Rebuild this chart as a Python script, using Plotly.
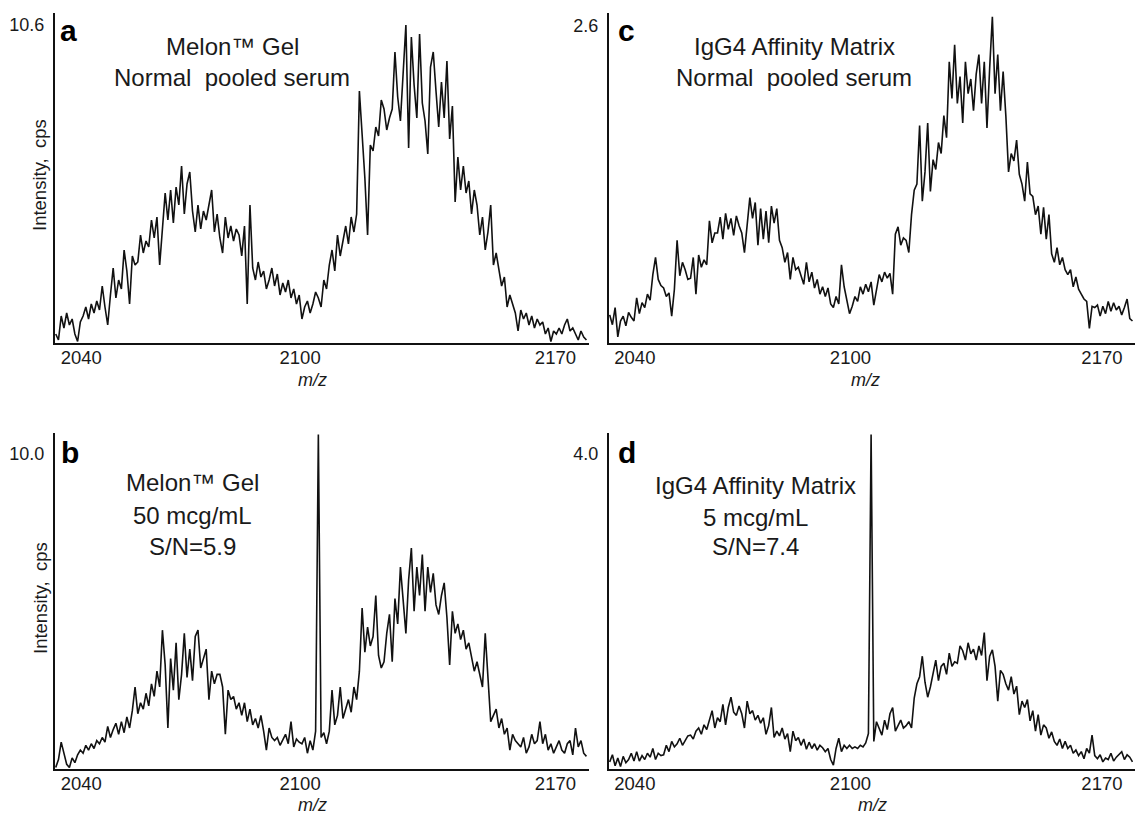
import numpy as np
import plotly.graph_objects as go

# ---------------- data ----------------
MZ_START = 2033.0      # m/z of first sample
MZ_STEP = 0.75         # m/z spacing of samples
X_RANGE = [2032.8, 2179.2]
X_TICKS = [2040, 2100, 2170]

# panel a: Melon Gel, normal pooled serum (cps)
INT_A = [
    0.3, 0.1, 0.9, 0.5, 1.0, 0.6, 0.8, 0.3, 0.05, 0.7,
    0.9, 1.2, 0.8, 1.3, 1.0, 1.4, 1.1, 1.9, 1.2, 0.6,
    1.6, 2.5, 1.5, 2.1, 1.8, 3.1, 2.4, 1.3, 2.9, 2.6,
    2.7, 3.6, 3.0, 3.4, 3.2, 4.1, 3.5, 4.2, 2.6, 3.9,
    5.0, 4.1, 5.1, 4.0, 5.2, 4.6, 5.9, 4.3, 5.3, 5.7,
    4.4, 3.7, 4.6, 3.8, 4.4, 4.1, 4.6, 5.1, 3.7, 4.3,
    3.5, 3.0, 4.2, 3.5, 3.9, 3.4, 3.8, 3.6, 2.9, 3.9,
    1.3, 4.6, 2.5, 2.1, 2.7, 2.2, 2.4, 1.8, 2.1, 2.5,
    1.9, 2.3, 1.6, 2.0, 1.7, 2.1, 1.5, 1.8, 1.3, 1.6,
    0.8, 1.2, 1.4, 1.0, 1.3, 1.7, 1.5, 1.2, 2.1, 1.8,
    2.6, 3.1, 2.4, 3.6, 2.9, 3.4, 3.9, 3.3, 4.2, 3.7,
    4.3, 8.4, 7.0, 5.5, 3.6, 6.6, 6.4, 7.2, 6.9, 8.1,
    7.8, 7.1, 7.5, 7.8, 9.7, 8.2, 7.4, 9.1, 10.6, 6.5,
    10.2, 8.6, 7.5, 10.3, 8.0, 7.4, 6.3, 9.2, 9.7, 8.4,
    7.2, 8.7, 7.5, 9.4, 6.8, 7.9, 4.7, 6.2, 5.1, 5.9,
    5.0, 5.4, 4.3, 5.1, 4.6, 3.6, 4.2, 3.1, 3.7, 4.6,
    2.6, 3.0, 2.5, 1.9, 2.2, 1.2, 1.6, 1.3, 1.0, 0.4,
    1.1, 0.8, 1.0, 0.6, 0.9, 0.5, 0.8, 0.6, 0.7, 0.3,
    0.5, 0.05, 0.4, 0.3, 0.5, 0.3, 0.6, 0.8, 0.4, 0.5,
    0.3, 0.1, 0.4, 0.2, 0.1,
]

# panel c: IgG4 affinity matrix, normal pooled serum (cps)
INT_C = [
    0.23, 0.15, 0.29, 0.05, 0.18, 0.22, 0.14, 0.25, 0.21, 0.18,
    0.37, 0.24, 0.33, 0.29, 0.40, 0.35, 0.56, 0.70, 0.52, 0.47,
    0.45, 0.38, 0.41, 0.22, 0.44, 0.84, 0.55, 0.66, 0.60, 0.52,
    0.53, 0.70, 0.40, 0.72, 0.62, 0.68, 0.64, 1.00, 0.82, 0.90,
    0.90, 1.03, 0.85, 1.06, 0.93, 1.02, 0.88, 1.04, 0.96, 0.90,
    0.74, 1.00, 1.19, 1.02, 1.15, 0.80, 1.10, 0.85, 1.08, 0.82,
    1.12, 0.98, 1.10, 0.84, 0.78, 0.66, 0.74, 0.52, 0.70, 0.60,
    0.62, 0.55, 0.48, 0.66, 0.50, 0.58, 0.45, 0.52, 0.40, 0.46,
    0.38, 0.45, 0.32, 0.29, 0.38, 0.32, 0.64, 0.46, 0.36, 0.24,
    0.30, 0.38, 0.34, 0.46, 0.40, 0.48, 0.42, 0.50, 0.31, 0.45,
    0.56, 0.50, 0.58, 0.53, 0.57, 0.40, 0.89, 0.95, 0.80, 0.86,
    0.84, 0.74, 1.05, 1.25, 1.30, 1.78, 1.16, 1.40, 1.80, 1.24,
    1.50, 1.42, 1.64, 1.55, 1.86, 1.68, 2.30, 2.00, 2.44, 1.96,
    2.18, 1.80, 2.30, 2.04, 2.16, 1.90, 2.20, 2.36, 1.96, 2.30,
    1.76, 2.25, 2.67, 2.04, 2.36, 1.90, 2.22, 1.86, 1.40, 1.55,
    1.49, 1.66, 1.38, 1.30, 1.16, 1.48, 1.22, 1.20, 1.05, 1.12,
    0.89, 1.11, 0.85, 1.05, 0.73, 0.66, 0.78, 0.64, 0.70, 0.60,
    0.56, 0.60, 0.46, 0.54, 0.44, 0.40, 0.36, 0.34, 0.12, 0.30,
    0.29, 0.31, 0.22, 0.30, 0.24, 0.34, 0.26, 0.33, 0.27, 0.30,
    0.23, 0.29, 0.36, 0.20, 0.18,
]

# panel b: Melon Gel, 50 mcg/mL (cps)
INT_B = [
    0.05, 0.3, 0.85, 0.45, 0.15, 0.05, 0.35, 0.2, 0.45, 0.6,
    0.5, 0.75, 0.6, 0.8, 0.65, 0.9, 0.8, 1.0, 0.85, 1.35,
    1.0, 1.25, 1.45, 1.1, 1.5, 1.15, 1.65, 1.3, 1.85, 2.6,
    1.75, 2.1, 1.9, 2.4, 2.0, 2.7, 2.3, 3.1, 2.6, 4.4,
    3.3, 1.3, 3.5, 2.5, 4.0, 2.2, 3.0, 4.3, 2.9, 3.8,
    2.8, 4.2, 4.4, 3.2, 3.5, 3.8, 2.2, 3.1, 2.7, 3.0,
    3.0, 2.6, 1.1, 2.5, 2.2, 2.3, 1.9, 2.1, 1.7, 2.1,
    1.5, 1.9, 1.4, 1.6, 1.3, 1.7, 1.2, 0.6, 1.3, 1.0,
    0.9, 1.0, 0.75, 0.95, 1.1, 0.8, 1.5, 0.7, 0.95, 0.85,
    0.8, 1.0, 0.5, 0.9, 0.6, 1.2, 10.6, 1.0, 1.15, 0.8,
    1.2, 2.5, 1.4, 1.7, 2.6, 1.6, 1.9, 2.2, 1.8, 2.6,
    2.2, 3.1, 5.1, 3.7, 4.5, 3.9, 4.2, 5.5, 3.6, 3.2,
    3.4, 4.3, 4.9, 3.4, 5.4, 4.6, 6.4, 5.2, 4.3, 6.0,
    7.0, 5.0, 6.4, 5.5, 6.8, 5.0, 6.4, 5.6, 6.2, 5.2,
    4.9, 5.5, 5.9, 4.8, 3.3, 5.0, 4.3, 4.6, 4.1, 4.4,
    3.8, 4.0, 3.5, 3.1, 3.4, 3.0, 2.6, 4.3, 2.8, 1.5,
    1.7, 1.9, 1.3, 1.6, 1.1, 1.3, 0.6, 1.1, 0.9, 0.8,
    0.7, 1.0, 0.5, 0.7, 1.1, 0.8, 0.9, 1.5, 0.8, 1.1,
    0.6, 0.8, 0.5, 0.7, 0.9, 0.6, 0.5, 0.8, 0.9, 0.45,
    1.3, 0.7, 0.9, 0.5, 0.4,
]

# panel d: IgG4 affinity matrix, 5 mcg/mL (cps)
INT_D = [
    0.09, 0.18, 0.04, 0.14, 0.03, 0.16, 0.08, 0.12, 0.2, 0.1,
    0.22, 0.1, 0.17, 0.12, 0.2, 0.15, 0.26, 0.12, 0.2, 0.17,
    0.18, 0.3, 0.22, 0.35, 0.28, 0.32, 0.39, 0.3, 0.36, 0.42,
    0.43, 0.38, 0.48, 0.52, 0.44, 0.56, 0.5, 0.62, 0.74, 0.52,
    0.65, 0.6, 0.82, 0.56, 0.78, 0.91, 0.72, 0.68, 0.8, 0.7,
    0.52, 0.86, 0.7, 0.74, 0.62, 0.68, 0.58, 0.65, 0.44, 0.55,
    0.78, 0.4, 0.48, 0.42, 0.52, 0.38, 0.45, 0.22, 0.48, 0.36,
    0.4, 0.3, 0.38, 0.25, 0.34, 0.26, 0.32, 0.24, 0.3, 0.27,
    0.22, 0.26, 0.12, 0.05, 0.26, 0.39, 0.22, 0.3, 0.26, 0.3,
    0.26, 0.28, 0.26, 0.3, 0.28, 0.33, 0.45, 4.24, 0.35, 0.6,
    0.52, 0.43, 0.62, 0.5, 0.7, 0.78, 0.48, 0.56, 0.62, 0.52,
    0.55, 0.6, 0.52, 0.9, 1.08, 1.17, 1.43, 1.1, 0.91, 1.04,
    1.21, 1.38, 1.12, 1.3, 1.34, 1.2, 1.47, 1.3, 1.36, 1.34,
    1.56, 1.5, 1.38, 1.6, 1.46, 1.52, 1.38, 1.56, 1.44, 1.73,
    1.12, 1.43, 1.51, 1.3, 0.86, 1.25, 1.2, 1.08, 1.0, 1.17,
    0.95, 1.05, 0.69, 0.86, 0.78, 0.88, 0.61, 0.74, 0.48, 0.69,
    0.43, 0.56, 0.52, 0.39, 0.47, 0.35, 0.3, 0.38, 0.26, 0.35,
    0.26, 0.3, 0.2, 0.24, 0.17, 0.22, 0.13, 0.26, 0.2, 0.43,
    0.17, 0.13, 0.18, 0.09, 0.14, 0.12, 0.2, 0.1, 0.15, 0.18,
    0.22, 0.12, 0.18, 0.15, 0.09,
]

# axis maxima labels and axis tops (cps)
Y_LABELS = {"a": 10.6, "c": 2.6, "b": 10.0, "d": 4.0}
Y_TOPS = {"a": 11.0, "c": 2.70, "b": 10.65, "d": 4.26}

PANEL_TEXT = {
    "a": ["Melon\u2122 Gel", "Normal\u00a0 pooled serum"],
    "c": ["IgG4 Affinity Matrix", "Normal\u00a0 pooled serum"],
    "b": ["Melon\u2122 Gel", "50 mcg/mL", "S/N=5.9"],
    "d": ["IgG4 Affinity Matrix", "5 mcg/mL", "S/N=7.4"],
}

# ---------------- layout helpers (pixel geometry) ----------------
W, H = 1135, 817
FONT = "Liberation Sans, Arial, Helvetica, sans-serif"
INK = "#1a1a1a"


def fx(p):
    return p / W


def fy(p):
    return 1 - p / H


PANELS = [
    # key, intensities, axis suffix, x px span, y px span (top, bottom),
    # text centre x, text line ys, letter x, letter y, has y title, m/z title x, m/z title y
    ("a", INT_A, "", (55, 589), (13, 343), 232, [47, 77], 68, 30, True, 312, 380),
    ("c", INT_C, "2", (609, 1135), (13, 343), 794, [47, 77], 626, 30, False, 865, 380),
    ("b", INT_B, "3", (55, 589), (433, 769), 192, [483, 515, 546], 70, 452, True, 312, 805),
    ("d", INT_D, "4", (609, 1135), (433, 769), 755, [485, 517, 546], 627, 452, False, 872, 805),
]

fig = go.Figure()
annotations = []
layout = {}

for key, ints, sfx, (x0, x1), (ytop, ybot), tx, tys, lx, ly, has_ytitle, mx, my in PANELS:
    mz = MZ_START + MZ_STEP * np.arange(len(ints))
    fig.add_trace(go.Scatter(
        x=mz, y=ints, mode="lines",
        line=dict(color="#111111", width=1.6),
        xaxis="x" + sfx, yaxis="y" + sfx, showlegend=False,
        hoverinfo="skip",
    ))
    layout["xaxis" + sfx] = dict(
        domain=[fx(x0), fx(x1)], range=X_RANGE, anchor="y" + sfx,
        showline=True, linecolor="#111111", linewidth=2,
        ticks="", tickvals=X_TICKS, ticktext=[str(t) for t in X_TICKS],
        tickfont=dict(family=FONT, size=18.5, color=INK),
        ticklabelstandoff=-3,
        showgrid=False, zeroline=False,
    )
    layout["yaxis" + sfx] = dict(
        domain=[fy(ybot), fy(ytop)], range=[0, Y_TOPS[key]], anchor="x" + sfx,
        showline=True, linecolor="#111111", linewidth=2,
        ticks="", tickvals=[Y_LABELS[key]], ticktext=[f"{Y_LABELS[key]:.1f}"],
        tickfont=dict(family=FONT, size=18, color=INK),
        ticklabelstandoff=5,
        showgrid=False, zeroline=False,
    )
    # x-axis title
    annotations.append(dict(
        text="<i>m/z</i>", x=fx(mx), y=fy(my), xref="paper", yref="paper",
        showarrow=False, xanchor="center", yanchor="middle",
        font=dict(family=FONT, size=18, color=INK),
    ))
    # panel letter
    annotations.append(dict(
        text=f"<b>{key}</b>", x=fx(lx), y=fy(ly), xref="paper", yref="paper",
        showarrow=False, xanchor="center", yanchor="middle",
        font=dict(family=FONT, size=30, color="#000000"),
    ))
    # panel description
    for line, yy in zip(PANEL_TEXT[key], tys):
        annotations.append(dict(
            text=line, x=fx(tx), y=fy(yy), xref="paper", yref="paper",
            showarrow=False, xanchor="center", yanchor="middle",
            font=dict(family=FONT, size=24, color=INK),
        ))
    if has_ytitle:
        annotations.append(dict(
            text="Intensity,\u00a0 cps", x=fx(40), y=fy((ytop + ybot) / 2 - 3),
            xref="paper", yref="paper", showarrow=False, textangle=-90,
            xanchor="center", yanchor="middle",
            font=dict(family=FONT, size=18.5, color=INK),
        ))

fig.update_layout(
    width=W, height=H,
    margin=dict(l=0, r=0, t=0, b=0),
    paper_bgcolor="white", plot_bgcolor="white",
    showlegend=False,
    annotations=annotations,
    **layout,
)

# remove the browser's default page margin so the figure sits at the window origin
fig.write_html(
    "out.html",
    config={"displayModeBar": False},
    post_script="document.body.style.margin='0';document.body.style.overflow='hidden';",
)
